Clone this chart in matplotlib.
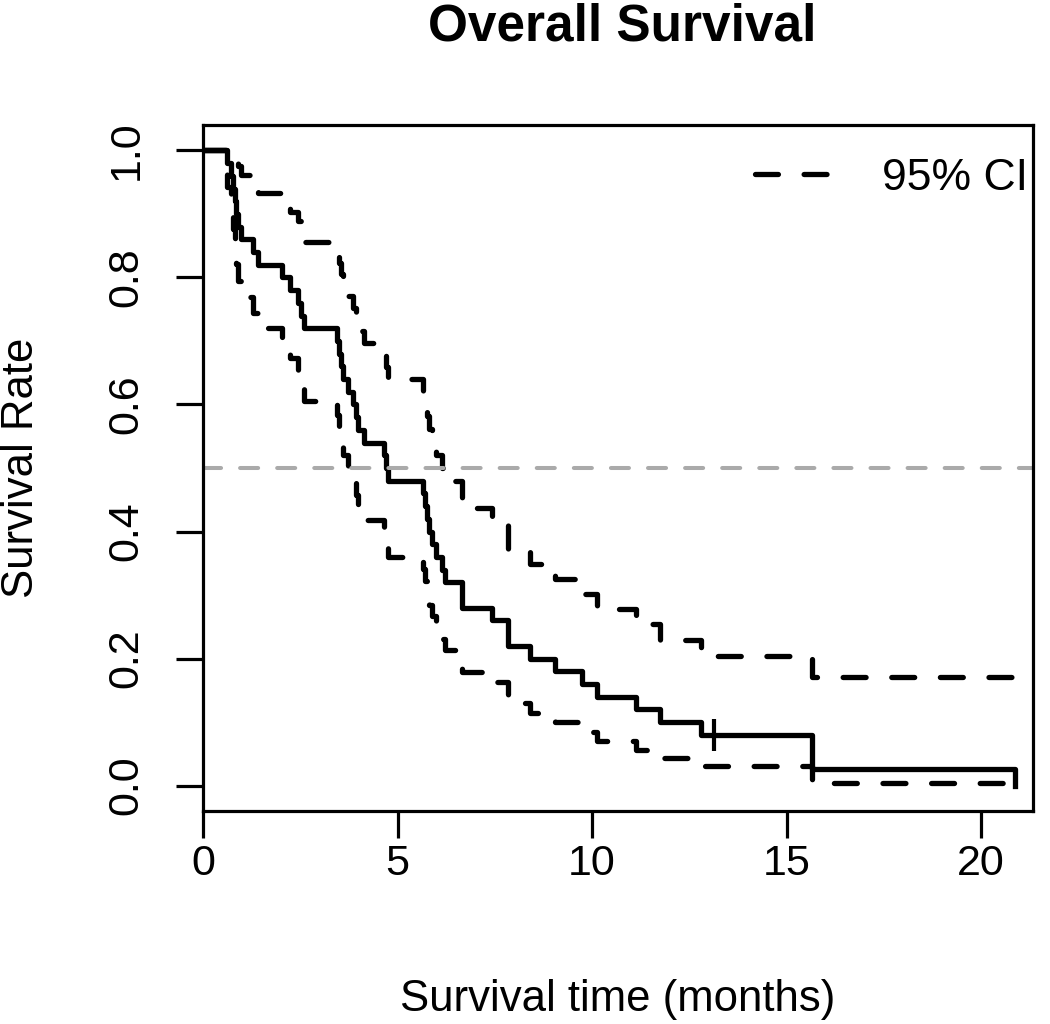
import numpy as np
import matplotlib
matplotlib.use("Agg")
import matplotlib.pyplot as plt
from matplotlib.lines import Line2D

plt.rcParams["font.family"] = ["Liberation Sans", "DejaVu Sans"]
plt.rcParams["lines.scale_dashes"] = False

# ---- data (Kaplan-Meier, n = 50) ----
n_subjects = 50
event_times = [0.62, 0.72, 0.78, 0.82, 0.86, 0.90, 0.98, 1.29, 1.41, 2.03,
               2.24, 2.45, 2.52, 2.60, 3.44, 3.49, 3.55, 3.60, 3.72, 3.85,
               3.92, 3.98, 4.15, 4.65, 4.70, 4.76, 5.66, 5.70, 5.75, 5.80,
               5.88, 6.00, 6.15, 6.22, 6.66, 7.43, 7.84, 8.40, 9.05, 9.75,
               10.13, 11.13, 11.75, 12.80, 15.65, 20.87]
event_counts = [1, 1, 1, 1, 1, 1, 1, 1, 1, 1,
                1, 1, 1, 1, 1, 1, 1, 1, 1, 1,
                1, 1, 1, 1, 1, 1, 1, 1, 1, 1,
                1, 1, 1, 1, 2, 1, 2, 1, 1, 1,
                1, 1, 1, 1, 2, 1]
censor_times = [13.13]

x_ticks = [0, 5, 10, 15, 20]
y_ticks = [0.0, 0.2, 0.4, 0.6, 0.8, 1.0]
y_tick_labels = ["0.0", "0.2", "0.4", "0.6", "0.8", "1.0"]
median_line = 0.5

# ---- Kaplan-Meier estimate with log-type Greenwood 95% CI ----
all_times = sorted(set(event_times) | set(censor_times))
deaths = dict(zip(event_times, event_counts))
at_risk = n_subjects
surv = 1.0
var_sum = 0.0
km_t, km_s, ci_lo, ci_hi = [0.0], [1.0], [1.0], [1.0]
cens_x, cens_y = [], []
for t in all_times:
    d = deaths.get(t, 0)
    c = censor_times.count(t)
    if d > 0:
        surv *= (at_risk - d) / at_risk
        km_t.append(t)
        km_s.append(surv)
        if at_risk - d > 0:
            var_sum += d / (at_risk * (at_risk - d))
            se = np.sqrt(var_sum)
            ci_lo.append(surv * np.exp(-1.96 * se))
            ci_hi.append(min(1.0, surv * np.exp(1.96 * se)))
        else:
            ci_lo.append(ci_lo[-1])
            ci_hi.append(ci_hi[-1])
    if c > 0:
        cens_x.append(t)
        cens_y.append(surv)
    at_risk -= d + c

# ---- figure ----
fig = plt.figure(figsize=(10.5, 10.24), dpi=100)
ax = fig.add_axes([203 / 1050, 1 - 811 / 1024, 830 / 1050, 686 / 1024])

lw = 3.8
dash = (0, (16.5, 18.5))
ax.step(km_t, km_s, where="post", color="black", lw=lw)
ax.step(km_t, ci_lo, where="post", color="black", lw=lw, linestyle=dash,
        dash_capstyle="round")
ax.step(km_t, ci_hi, where="post", color="black", lw=lw, linestyle=dash,
        dash_capstyle="round")
ax.plot(cens_x, cens_y, linestyle="none", marker="|", color="black",
        markersize=23, markeredgewidth=3.0)
ax.axhline(median_line, color="#aaaaaa", lw=2.9, linestyle=(0, (13, 13.7)),
           dash_capstyle="round")

ax.set_xlim(0, 21.33)
ax.set_ylim(-0.04, 1.04)
ax.set_xticks(x_ticks)
ax.set_xticklabels([str(v) for v in x_ticks], fontsize=31)
ax.set_yticks(y_ticks)
ax.set_yticklabels(y_tick_labels, fontsize=31, rotation=90, va="center")
ax.tick_params(axis="both", length=19.5, width=2.3, direction="out")
ax.tick_params(axis="x", pad=4)
ax.tick_params(axis="y", pad=21)
for sp in ax.spines.values():
    sp.set_linewidth(2.3)

handle = Line2D([], [], color="black", lw=lw, linestyle=dash,
                dash_capstyle="round")
ax.legend([handle], ["95% CI"], loc="upper right", frameon=False,
          fontsize=32, handlelength=1.65, handletextpad=1.2,
          borderpad=0, borderaxespad=0, bbox_to_anchor=(0.994, 0.952))

fig.text(622 / 1050, 1 - 27 / 1024, "Overall Survival", ha="center",
         va="center", fontsize=37, fontweight="bold")
fig.text(618 / 1050, 1 - 1000 / 1024, "Survival time (months)",
         ha="center", va="center", fontsize=31.5)
fig.text(22 / 1050, 1 - 468 / 1024, "Survival Rate", ha="center",
         va="center", rotation=90, fontsize=31.5)

fig.savefig("out.png", dpi=100)
